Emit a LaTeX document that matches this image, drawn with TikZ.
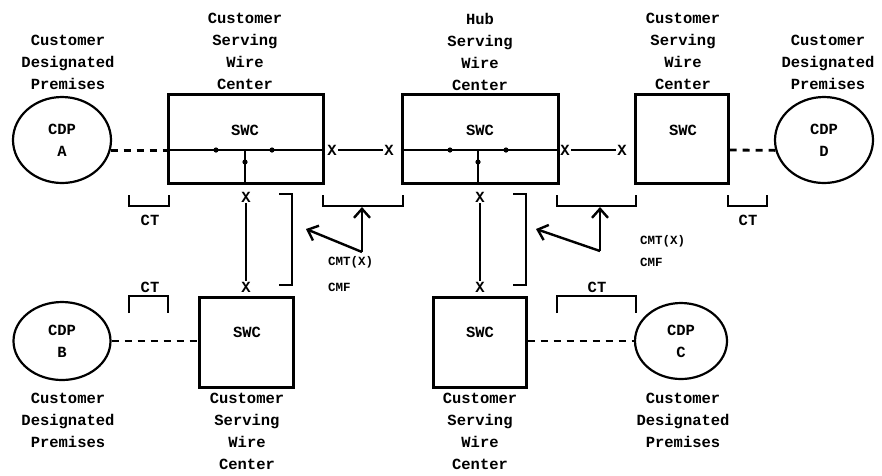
\documentclass[tikz,border=0pt]{standalone}
\usepackage{fontspec}
\setmainfont{Liberation Mono}
\usepackage{xcolor}
\usetikzlibrary{shapes.geometric,arrows.meta}

\begin{document}
\begin{tikzpicture}[x=1pt, y=-1pt,
    font=\fontsize{15.5}{22}\selectfont\bfseries,
    swcbox/.style={draw, line width=3pt, minimum height=89pt, inner sep=0pt},
    cdp/.style={draw, ellipse, line width=2.2pt, align=center, inner sep=0pt},
    lbl/.style={align=center},
    xmark/.style={inner sep=1pt},
    wire/.style={line width=2pt},
    hook/.style={line width=2.8pt},
    drop/.style={line width=2.8pt, dash pattern=on 7pt off 6pt},
    mon/.style={line width=2.4pt, -{Straight Barb[length=9pt,width=16pt]}},
    small/.style={font=\fontsize{12.5}{15}\selectfont\bfseries, anchor=west, inner sep=0pt}]
    \useasboundingbox (0,0) rectangle (882,475);

    % wire centers
    \node[swcbox, minimum width=155pt] (S1) at (245.5,138.5) {};
    \node[swcbox, minimum width=156pt] (H) at (480,138.5) {};
    \node[swcbox, minimum width=93pt] (S4) at (681.5,138.5) {};
    \node[swcbox, minimum width=94pt, minimum height=90pt] (S2) at (246,342) {};
    \node[swcbox, minimum width=93pt, minimum height=90pt] (S3) at (479.5,342) {};
    \node (S1t) at (245,130) {SWC};
    \node (Ht) at (480,130) {SWC};
    \node (S4t) at (683,130) {SWC};
    \node (S2t) at (247,332) {SWC};
    \node (S3t) at (480,332) {SWC};

    % premises
    \node[cdp, minimum width=98pt, minimum height=86pt] (A) at (62,140) {CDP\\A};
    \node[cdp, minimum width=98pt, minimum height=86pt] (D) at (824,140) {CDP\\D};
    \node[cdp, minimum width=97pt, minimum height=78pt] (B) at (62,341) {CDP\\B};
    \node[cdp, minimum width=92pt, minimum height=76pt] (C) at (681,341) {CDP\\C};

    % cross-connects
    \node[xmark] (X1) at (332,150) {X};
    \node[xmark] (X2) at (389,150) {X};
    \node[xmark] (X3) at (565,150) {X};
    \node[xmark] (X4) at (622,150) {X};
    \node[xmark] (X5) at (246,197) {X};
    \node[xmark] (X6) at (246,287) {X};
    \node[xmark] (X7) at (480,197) {X};
    \node[xmark] (X8) at (480,287) {X};

    % taps inside the boxes
    \coordinate (t1) at (245,150);
    \coordinate (t2) at (478,150);

    \draw[wire] (S1.west |- X1) -- (S1.east |- X1) (t1) -- (t1 |- S1.south);
    \draw[wire] (H.west |- X2) -- (H.east |- X2) (t2) -- (t2 |- H.south);
    \draw[wire] (X1) -- (X2) (X3) -- (X4) (X5) -- (X6) (X7) -- (X8);
    \foreach \p in {(216,150),(272,150),(245,162),(450,150),(506,150),(478,162)}
        \fill \p circle (2.6pt);

    % loops to the premises
    \draw[drop] (A.-12) -- (A.-12 -| S1.west);
    \draw[drop] (S4.east |- X4) -- (D.192);
    \draw[drop] (B.east) -- (B.east -| S2.west);
    \draw[drop] (S3.east |- C.west) -- (C.west);

    % brackets
    \draw[hook] (129,195) |- (169,206) -- (169,195);
    \draw[hook] (323,195) |- (403,206) -- (403,195);
    \draw[hook] (557,195) |- (636,206) -- (636,195);
    \draw[hook] (728,195) |- (767,206) -- (767,195);
    \draw[hook] (129,313) |- (168,296) -- (168,313);
    \draw[hook] (557,313) |- (636,296) -- (636,313);
    \draw[hook] (279,194) -| (292,285) -- (279,285);
    \draw[hook] (513,194) -| (526,285) -- (513,285);

    % monitoring arrows
    \coordinate (m1) at (362,252);
    \coordinate (m1a) at (362,207);
    \coordinate (m1b) at (306,229);
    \coordinate (m2) at (600,251);
    \coordinate (m2a) at (600,207);
    \coordinate (m2b) at (536,229);
    \draw[mon] (m1) -- (m1a);
    \draw[mon] (m1) -- (m1b);
    \draw[mon] (m2) -- (m2a);
    \draw[mon] (m2) -- (m2b);

    \node (ct1) at (150,220) {CT};
    \node (ct4) at (748,220) {CT};
    \node (ct2) at (150,287) {CT};
    \node (ct3) at (597,287) {CT};
    \node[small] (cmt1) at (328,262) {CMT(X)};
    \node[small] (cmf1) at (328,287) {CMF};
    \node[small] (cmt2) at (640,241) {CMT(X)};
    \node[small] (cmf2) at (640,262) {CMF};

    % titles
    \node[lbl] (lA) at (68,62.5) {Customer\\Designated\\Premises};
    \node[lbl] (lD) at (828,62.5) {Customer\\Designated\\Premises};
    \node[lbl] (lS1) at (245,51.5) {Customer\\Serving\\Wire\\Center};
    \node[lbl] (lH) at (480,51.5) {Hub\\Serving\\Wire\\Center};
    \node[lbl] (lS4) at (683,51.5) {Customer\\Serving\\Wire\\Center};
    \node[lbl] (lB) at (68,420.5) {Customer\\Designated\\Premises};
    \node[lbl] (lC) at (683,420.5) {Customer\\Designated\\Premises};
    \node[lbl] (lS2) at (247,431.5) {Customer\\Serving\\Wire\\Center};
    \node[lbl] (lS3) at (480,431.5) {Customer\\Serving\\Wire\\Center};
\end{tikzpicture}
\end{document}
